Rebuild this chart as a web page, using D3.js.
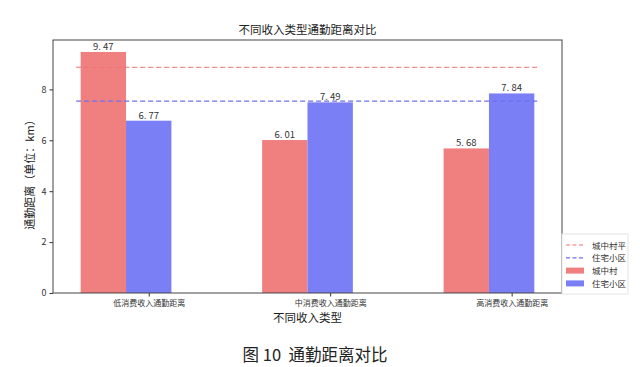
<!DOCTYPE html>
<html>
<head>
<meta charset="utf-8">
<script src="https://cdn.jsdelivr.net/npm/d3@7"></script>
<style>
body { margin: 0; background: #fff; }
text { font-family: "Noto Sans CJK SC", "DejaVu Sans", sans-serif; }
</style>
</head>
<body>
<div id="chart"></div>
<script>
// data
var categories = ['低消费收入通勤距离', '中消费收入通勤距离', '高消费收入通勤距离'];
var villageVals = [9.47, 6.01, 5.68];   // 城中村
var estateVals = [6.77, 7.49, 7.84];    // 住宅小区
var avgLines = [8.87, 7.54];            // 城中村平 / 住宅小区 dashed lines
var yTicks = [0, 2, 4, 6, 8];
var legendNames = ['城中村平', '住宅小区', '城中村', '住宅小区'];

var W = 640, H = 367;
var frame = {left: 53, right: 562, top: 40, bottom: 293};
var barW = 0.25;

var svg = d3.select('#chart').append('svg')
    .attr('width', W)
    .attr('height', H);

// x in "bar units": red bar centred on i, blue on i + barW
var x = d3.scaleLinear()
    .domain([-0.2775, 2.5275])
    .range([frame.left, frame.right]);
var y = d3.scaleLinear()
    .domain([0, 9.94])
    .range([frame.bottom, frame.top]);

var colRed = '#f08080', colBlue = '#7b7ff6';

// bars
svg.selectAll('.bar-red')
    .data(villageVals)
    .enter().append('rect')
        .attr('x', function(d, i) { return x(i - barW / 2); })
        .attr('y', function(d) { return y(d); })
        .attr('width', x(barW) - x(0))
        .attr('height', function(d) { return y(0) - y(d); })
        .attr('fill', colRed);

svg.selectAll('.bar-blue')
    .data(estateVals)
    .enter().append('rect')
        .attr('x', function(d, i) { return x(i + barW / 2); })
        .attr('y', function(d) { return y(d); })
        .attr('width', x(barW) - x(0))
        .attr('height', function(d) { return y(0) - y(d); })
        .attr('fill', colBlue);

// value labels
var labels = [];
villageVals.forEach(function(v, i) { labels.push({x: i, v: v}); });
estateVals.forEach(function(v, i) { labels.push({x: i + barW, v: v}); });
svg.selectAll('.val')
    .data(labels)
    .enter().append('text')
        .attr('x', function(d) { return x(d.x); })
        .attr('y', function(d) { return y(d.v) - 2; })
        .attr('text-anchor', 'middle')
        .attr('font-size', 9.5)
        .attr('fill', '#333')
        .style('white-space', 'pre')
        .text(function(d) { return d.v.toFixed(2).replace('.', '. '); });

// dashed average lines
svg.selectAll('.avg')
    .data(avgLines)
    .enter().append('line')
        .attr('x1', x(-0.15))
        .attr('x2', x(2.4))
        .attr('y1', function(d) { return y(d); })
        .attr('y2', function(d) { return y(d); })
        .attr('stroke', function(d, i) { return i == 0 ? '#f07070' : '#6f6ff0'; })
        .attr('stroke-width', 1.2)
        .attr('stroke-dasharray', '5,3');

// axes
var yAxis = d3.axisLeft(y).tickValues(yTicks).tickSize(3.5).tickPadding(3);
var gy = svg.append('g')
    .attr('transform', 'translate(' + frame.left + ',0)')
    .call(yAxis);
gy.select('.domain').remove();
gy.selectAll('text').attr('font-size', 9).attr('fill', '#333');
gy.selectAll('line').attr('stroke', '#333');

var xAxis = d3.axisBottom(x).tickValues([0, 1, 2].map(function(i) { return i + barW; }))
    .tickFormat(function(d, i) { return categories[i]; })
    .tickSize(3.5).tickPadding(3.5);
var gx = svg.append('g')
    .attr('transform', 'translate(0,' + frame.bottom + ')')
    .call(xAxis);
gx.select('.domain').remove();
gx.selectAll('text').attr('font-size', 8).attr('fill', '#333');
gx.selectAll('line').attr('stroke', '#333');

// frame
svg.append('rect')
    .attr('x', frame.left)
    .attr('y', frame.top)
    .attr('width', frame.right - frame.left)
    .attr('height', frame.bottom - frame.top)
    .attr('fill', 'none')
    .attr('stroke', '#444')
    .attr('stroke-width', 1);

// titles
svg.append('text')
    .attr('x', (frame.left + frame.right) / 2)
    .attr('y', 34)
    .attr('text-anchor', 'middle')
    .attr('font-size', 11.5)
    .attr('fill', '#222')
    .text('不同收入类型通勤距离对比');

svg.append('text')
    .attr('x', (frame.left + frame.right) / 2)
    .attr('y', 322)
    .attr('text-anchor', 'middle')
    .attr('font-size', 11.5)
    .attr('fill', '#222')
    .text('不同收入类型');

svg.append('text')
    .attr('transform', 'translate(34,' + 172 + ') rotate(-90)')
    .attr('text-anchor', 'middle')
    .attr('font-size', 11)
    .attr('fill', '#222')
    .text('通勤距离（单位：km）');

svg.append('text')
    .attr('x', 315)
    .attr('y', 361)
    .attr('text-anchor', 'middle')
    .attr('font-size', 16.5)
    .attr('fill', '#222')
    .style('white-space', 'pre')
    .text('图 10  通勤距离对比');

// legend
var lg = svg.append('g').attr('transform', 'translate(562,234)');
lg.append('rect')
    .attr('width', 66).attr('height', 60)
    .attr('fill', '#fff')
    .attr('stroke', '#e4e4e4');
var items = lg.selectAll('.item')
    .data(legendNames)
    .enter().append('g')
        .attr('transform', function(d, i) { return 'translate(0,' + (11 + i * 12.8) + ')'; });
items.each(function(d, i) {
    var g = d3.select(this);
    var c = (i % 2 == 0) ? colRed : colBlue;
    if (i < 2) {
        g.append('line')
            .attr('x1', 4).attr('x2', 21)
            .attr('stroke', i == 0 ? '#f07070' : '#6f6ff0')
            .attr('stroke-width', 1.2)
            .attr('stroke-dasharray', '4,2.5');
    } else {
        g.append('rect')
            .attr('x', 4).attr('y', -3)
            .attr('width', 18).attr('height', 6)
            .attr('fill', c);
    }
    g.append('text')
        .attr('x', 30).attr('y', 3.5)
        .attr('font-size', 8.5)
        .attr('fill', '#333')
        .text(d);
});
</script>
</body>
</html>
